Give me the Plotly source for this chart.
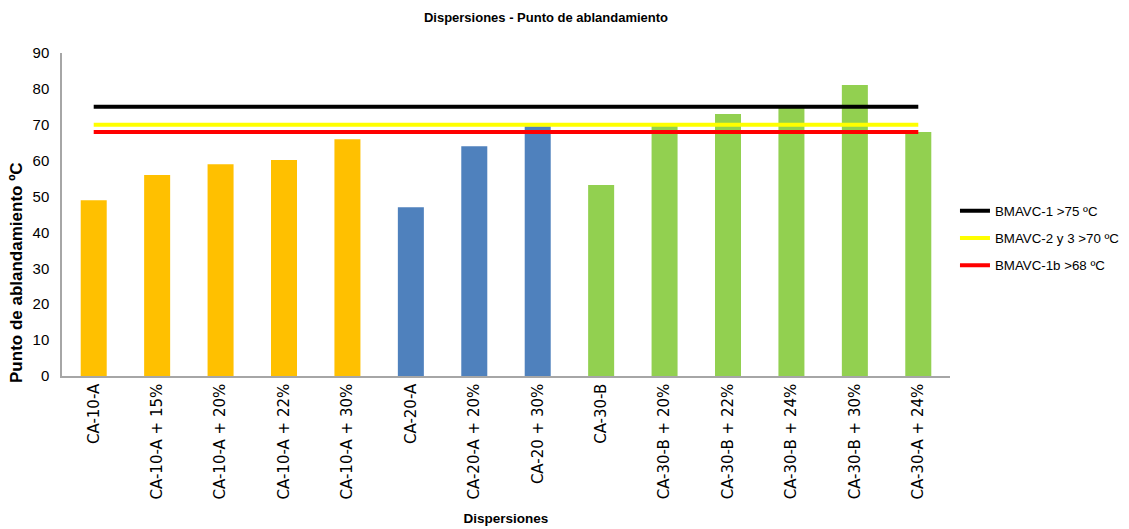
import plotly.graph_objects as go

categories = ["CA-10-A", "CA-10-A + 15%", "CA-10-A + 20%", "CA-10-A + 22%", "CA-10-A + 30%",
              "CA-20-A", "CA-20-A + 20%", "CA-20 + 30%", "CA-30-B", "CA-30-B + 20%",
              "CA-30-B + 22%", "CA-30-B + 24%", "CA-30-B + 30%", "CA-30-A + 24%"]
values = [49, 56, 59, 60.2, 66, 47, 64, 69.6, 53.2, 69.7, 73, 75.5, 81.1, 68]
groups = ["CA-10"] * 5 + ["CA-20"] * 3 + ["CA-30"] * 6
group_colors = {"CA-10": "#FFC000", "CA-20": "#4F81BD", "CA-30": "#92D050"}

limit_names = ["BMAVC-1 >75 ºC", "BMAVC-2 y 3 >70 ºC", "BMAVC-1b >68 ºC"]
limit_values = [75, 70, 68]
limit_colors = ["#000000", "#FFFF00", "#FF0000"]

narrow = "Liberation Sans Narrow, Arial Narrow, Liberation Sans, Arial"

fig = go.Figure()
fig.add_trace(go.Bar(
    x=categories, y=values,
    marker=dict(color=[group_colors[g] for g in groups], line=dict(width=0)),
    showlegend=False, hoverinfo="x+y",
))
for name, val, col in zip(limit_names, limit_values, limit_colors):
    fig.add_trace(go.Scatter(
        x=categories, y=[val] * len(categories), mode="lines", name=name,
        legendgroup=name, line=dict(color=col, width=4),
    ))

fig.add_annotation(
    text="<b>Punto de ablandamiento ºC</b>", textangle=-90,
    xref="paper", yref="paper", x=-0.0507, y=0.322, xanchor="center", yanchor="middle",
    showarrow=False, font=dict(family="Liberation Sans, Arial", size=17, color="black"),
)

fig.update_layout(
    width=1135, height=529,
    paper_bgcolor="white", plot_bgcolor="white",
    margin=dict(l=54, r=193, t=45, b=161),
    bargap=0.59,
    title=dict(text="<b>Dispersiones - Punto de ablandamiento</b>", x=0.474, xanchor="center",
               xref="container", y=0.983, yref="container", yanchor="middle",
               font=dict(family=narrow, size=13, color="black")),
    legend=dict(x=1.0056, xanchor="left", y=0.427, yanchor="middle",
                font=dict(family="Liberation Sans, Arial", size=13.3, color="black"),
                itemwidth=30, tracegroupgap=7, bgcolor="rgba(0,0,0,0)"),
    xaxis=dict(type="category", tickangle=-90, showgrid=False, showline=True,
               linecolor="#A6A6A6", linewidth=1.5, ticks="",
               tickfont=dict(family="DejaVu Sans, Liberation Sans", size=15, color="black"),
               title=dict(text="<b>Dispersiones</b>", standoff=15,
                          font=dict(family=narrow, size=13.5, color="black"))),
    yaxis=dict(range=[0, 90], dtick=10, showgrid=False, showline=True, zeroline=False,
               linecolor="#A6A6A6", linewidth=1.5, ticks="", ticklabelstandoff=8,
               tickfont=dict(family=narrow, size=15, color="black")),
)

fig.write_html("out.html")
